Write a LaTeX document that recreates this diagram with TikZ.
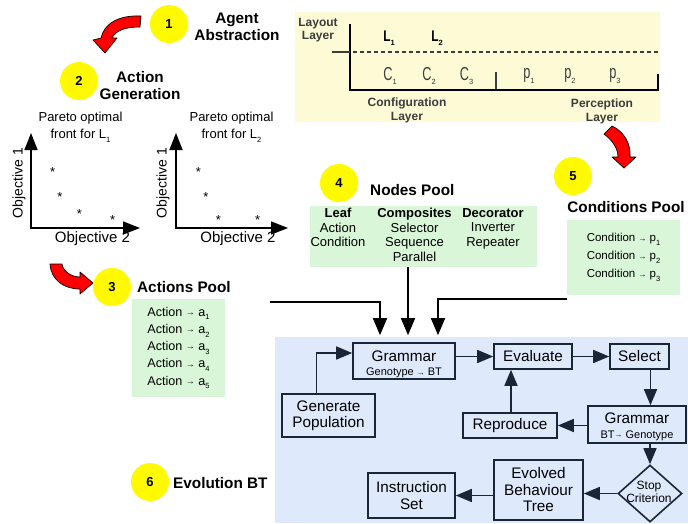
\documentclass[tikz,border=0pt]{standalone}
\usepackage{fontspec}
\usepackage{graphicx}
\setmainfont{Liberation Sans}
\usetikzlibrary{arrows.meta,shapes.geometric}
\definecolor{ylw}{RGB}{255,250,0}
\definecolor{layoutbg}{RGB}{253,251,214}
\definecolor{greenbg}{RGB}{217,246,217}
\definecolor{bluebg}{RGB}{222,234,251}
\definecolor{navy}{RGB}{25,38,54}
\definecolor{txtgray}{RGB}{60,60,60}
\newcommand\sbs[1]{\raisebox{-0.3em}{\fontsize{7.5}{7.5}\selectfont #1}}
\newcommand\arr{\raisebox{0.06em}{\scalebox{0.72}{→}}}
\newcommand\fsz[2]{\fontsize{#1}{#2}\selectfont}
\newcommand\tallc[1]{\scalebox{0.85}[1.25]{#1}}
\begin{document}
\begin{tikzpicture}[x=1pt,y=-1pt,
  num/.style={circle,fill=ylw,minimum size=38pt,inner sep=0pt,font=\fsz{13}{13}\bfseries},
  ttl/.style={font=\fsz{15.3}{17}\bfseries,align=center,inner sep=0pt},
  pool/.style={fill=greenbg,inner sep=0pt},
  flowbox/.style={draw=navy,line width=1.6pt,fill=bluebg,inner sep=0pt,align=center,font=\fsz{15.3}{16.5}},
  flow/.style={draw=navy,line width=1.6pt,-{Triangle[length=16pt,width=13pt]}},
  feed/.style={draw=black,line width=1.5pt,-{Triangle[length=17pt,width=14pt]},shorten >=7pt},
  axisline/.style={draw=black,line width=1.5pt,-{Triangle[length=17pt,width=13pt]}},
  star/.style={font=\fsz{13}{13},inner sep=0pt,yshift=-3pt},
  redarrow/.style={fill=red,draw=black,line width=0.7pt,line join=round},
  plain/.style={inner sep=0pt,align=center},
  laytxt/.style={inner sep=0pt,align=center,font=\fsz{12}{14}\bfseries,text=txtgray},
  cp/.style={inner sep=0pt,font=\fsz{15}{15},text=txtgray}
]
\useasboundingbox (0,0) rectangle (688,523);

% ---------- step 1 and 2 ----------
\node[num] (c1) at (169,24) {1};
\node[ttl] (t1) at (237,27) {Agent\\Abstraction};
\node[num] (c2) at (79,81) {2};
\node[ttl] (t2) at (140,86) {Action\\Generation};
\path[redarrow] (141,16) .. controls (118,15) and (104,24) .. (101,38) -- (93,40) -- (105,53) -- (117,38) -- (112,38) .. controls (116,30) and (126,27) .. (140,27) -- cycle;

% ---------- layout layer ----------
\fill[layoutbg] (295,12) rectangle (660,122);
\node[laytxt,font=\fsz{12}{13}\bfseries] (laylbl) at (318,30.5) {Layout\\Layer};
\draw[black,line width=1.8pt] (350,24) -- (350,90) -- (658,90) -- (658,74);
\draw[txtgray,line width=1.5pt] (332,52) -- (350,52);
\draw[txtgray,line width=1.5pt,dash pattern=on 4pt off 3pt] (353,52) -- (658,52);
\draw[txtgray,line width=1.5pt] (496,72) -- (496,89);
\node[inner sep=0pt,font=\fsz{14}{14}\bfseries] (l1) at (389,38) {\scalebox{0.85}[1.1]{L}\sbs{1}};
\node[inner sep=0pt,font=\fsz{14}{14}\bfseries] (l2) at (437,38) {\scalebox{0.85}[1.1]{L}\sbs{2}};
\node[cp] (cc1) at (390,76) {\tallc{C}\sbs{1}};
\node[cp] (cc2) at (429,76) {\tallc{C}\sbs{2}};
\node[cp] (cc3) at (466.5,76) {\tallc{C}\sbs{3}};
\node[cp] (pp1) at (529,76) {\tallc{p}\sbs{1}};
\node[cp] (pp2) at (570,76) {\tallc{p}\sbs{2}};
\node[cp] (pp3) at (615,76) {\tallc{p}\sbs{3}};
\node[laytxt] (conflbl) at (407,110) {Configuration\\Layer};
\node[laytxt] (perclbl) at (602,111) {Perception\\Layer};
\path[redarrow] (604,134) -- (612,126) .. controls (625,132) and (631,145) .. (630,157) -- (636,157) -- (624,168) -- (612,157) -- (618,157) .. controls (618,148) and (612,140) .. (604,134) -- cycle;

% ---------- Pareto plots ----------
\node[plain,font=\fsz{13}{17}] (par1) at (80.5,127) {Pareto optimal\\front for L\sbs{1}};
\node[plain,font=\fsz{13}{17}] (par2) at (231.5,127) {Pareto optimal\\front for L\sbs{2}};
\coordinate (ax1) at (31,228);
\coordinate (ax2) at (176,228);
\draw[axisline] ([yshift=0.75pt]ax1) -- (31,133);
\draw[axisline] ([xshift=-0.75pt]ax1) -- (140,228);
\draw[axisline] ([yshift=0.75pt]ax2) -- (176,133);
\draw[axisline] ([xshift=-0.75pt]ax2) -- (288,228);
\node[plain,font=\fsz{14}{14},rotate=90] (ob1a) at (19,183) {Objective 1};
\node[plain,font=\fsz{14}{14},rotate=90] (ob1b) at (163,183) {Objective 1};
\node[plain,font=\fsz{15}{15}] (ob2a) at (92.5,239) {Objective 2};
\node[plain,font=\fsz{15}{15}] (ob2b) at (238,239) {Objective 2};
\node[star] (s1) at (52.7,169.3) {*};
\node[star] (s2) at (60,194.3) {*};
\node[star] (s3) at (79.3,211) {*};
\node[star] (s4) at (112.7,216.7) {*};
\node[star] (s5) at (198.3,169) {*};
\node[star] (s6) at (206,194) {*};
\node[star] (s7) at (218.3,216.7) {*};
\node[star] (s8) at (257.7,216.7) {*};

% ---------- Actions pool ----------
\path[redarrow] (50,264) .. controls (51,280) and (64,289) .. (80,289) -- (80,294) -- (93,283) -- (80,272) -- (80,277) .. controls (71,277) and (63,271) .. (62,264) -- cycle;
\node[num] (c3) at (112,287) {3};
\node[ttl,anchor=west] (t3) at (137,287) {Actions Pool};
\node[pool,minimum width=93pt,minimum height=98pt,align=left,font=\fsz{12.6}{17.25}] (apool) at (178.5,348)
  {Action \arr\ a\sbs{1}\\Action \arr\ a\sbs{2}\\Action \arr\ a\sbs{3}\\Action \arr\ a\sbs{4}\\Action \arr\ a\sbs{5}};

% ---------- Nodes pool ----------
\node[num] (c4) at (339,183) {4};
\node[ttl,anchor=west] (t4) at (370,190) {Nodes Pool};
\node[pool,minimum width=227pt,minimum height=61pt] (npool) at (423.5,236.5) {};
\node[plain,font=\fsz{13}{14.5},anchor=north] (leaf) at (338,208) {\textbf{Leaf}\\Action\\Condition};
\node[plain,font=\fsz{13}{14.5},anchor=north] (comp) at (414.5,208) {\textbf{Composites}\\Selector\\Sequence\\Parallel};
\node[plain,font=\fsz{13}{14.5},anchor=north] (deco) at (493,208) {\textbf{Decorator}\\Inverter\\Repeater};

% ---------- Conditions pool ----------
\node[num] (c5) at (573,176) {5};
\node[ttl] (t5) at (626,207) {Conditions Pool};
\node[pool,minimum width=113pt,minimum height=75pt,align=left,font=\fsz{11.5}{18}] (cpool) at (623.5,257.5)
  {Condition\hspace{3pt}\arr\hspace{3pt}p\sbs{1}\\Condition\hspace{3pt}\arr\hspace{3pt}p\sbs{2}\\Condition\hspace{3pt}\arr\hspace{3pt}p\sbs{3}};

% ---------- Evolution BT ----------
\fill[bluebg] (275,337) rectangle (688,523);
\node[num] (c6) at (150,482) {6};
\node[ttl,anchor=west] (t6) at (173,483) {Evolution BT};

\node[flowbox,minimum width=102pt,minimum height=36pt,text height=32pt] (gram1) at (404,361) {Grammar\\[-2pt]{\fsz{11}{11}Genotype \arr\ BT}};
\node[flowbox,minimum width=78pt,minimum height=25pt] (eval) at (533,356.5) {Evaluate};
\node[flowbox,minimum width=59pt,minimum height=25pt] (sel) at (639.5,356.5) {Select};
\node[flowbox,minimum width=93pt,minimum height=43pt] (gen) at (328.5,415.5) {Generate\\Population};
\node[flowbox,minimum width=94pt,minimum height=25pt] (repro) at (510,425.5) {Reproduce};
\node[flowbox,minimum width=98pt,minimum height=37pt,text height=30pt] (gram2) at (637,424.5) {Grammar\\[-2pt]{\fsz{11}{11}BT\arr\ Genotype}};
\node[diamond,draw=navy,line width=1.6pt,fill=bluebg,minimum width=64pt,minimum height=57pt,inner sep=0pt] (stop) at (650,493.5) {};
\node[plain,font=\fsz{12}{13}] (stoptxt) at (649,492) {Stop\\Criterion};
\node[flowbox,minimum width=89pt,minimum height=60pt] (evol) at (538.5,490) {Evolved\\Behaviour\\Tree};
\node[flowbox,minimum width=87pt,minimum height=45pt] (instr) at (411.5,495.5) {Instruction\\Set};

\draw[flow] ([xshift=-12pt]gen.north) |- ([yshift=8pt]gram1.west);
\draw[flow] (gram1.east |- eval.west) -- (eval.west);
\draw[flow] (eval.east) -- (sel.west);
\draw[flow] ([xshift=11pt]sel.south) -- ([xshift=11pt]sel.south |- gram2.north);
\draw[flow] (gram2.west |- repro.east) -- (repro.east);
\draw[flow] ([xshift=1pt]repro.north) -- ([xshift=1pt]repro.north |- eval.south);
\draw[flow] (stop.north |- gram2.south) -- (stop.north);
\draw[flow] (stop.west) -- (evol.east |- stop.west);
\draw[flow] (evol.west |- instr.east) -- (instr.east);

% ---------- feeds into grammar ----------
\coordinate (fa) at (270,302);
\coordinate (fc) at (567,299);
\draw[feed] (fa) -| ([xshift=-24pt]gram1.north);
\draw[feed] ([xshift=4pt]gram1.north |- npool.south) -- ([xshift=4pt]gram1.north);
\draw[feed] (fc) -| ([xshift=34pt]gram1.north);
\end{tikzpicture}
\end{document}
